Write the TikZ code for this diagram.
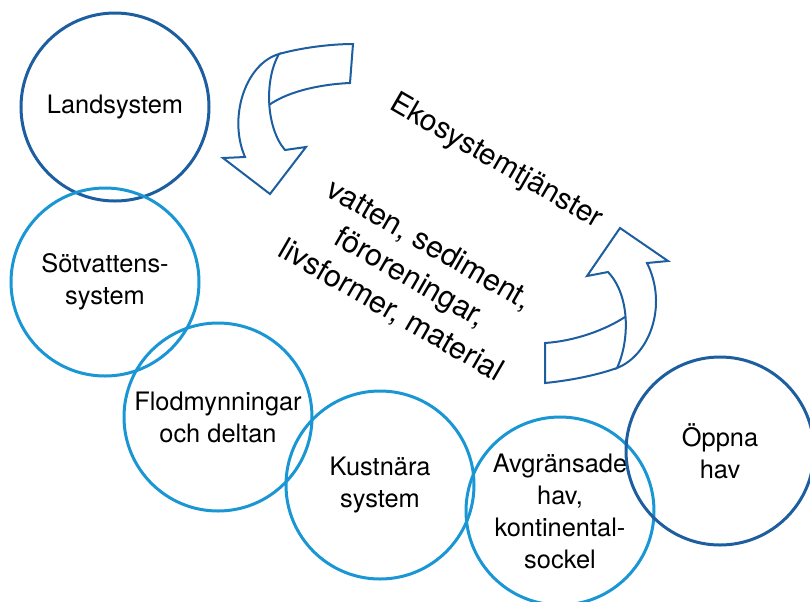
\documentclass[tikz,border=0pt]{standalone}
\usepackage{fontspec}
\setmainfont{TeX Gyre Heros}
\definecolor{deepblue}{RGB}{28,94,160}
\definecolor{seablue}{RGB}{26,150,212}
\begin{document}
\begin{tikzpicture}[x=0.5pt,y=-0.5pt,
  zone/.style={circle,draw,line width=1.5pt,minimum size=94pt,inner sep=0pt,
    align=center,font=\fontsize{12.7}{16}\selectfont},
  flow/.style={draw=deepblue,line width=1pt,line join=miter}]
\useasboundingbox (0,0) rectangle (810,601);
\node[zone,draw=deepblue] (land) at (115,107) {Landsystem};
\node[zone,draw=seablue] (fresh) at (105,282) {Sötvattens-\\system};
\node[zone,draw=seablue] (delta) at (218,417) {Flodmynningar\\och deltan};
\node[zone,draw=seablue] (coast) at (380,485) {Kustnära\\system};
\node[zone,draw=seablue] (shelf) at (560,511) {Avgränsade\\hav,\\kontinental-\\sockel};
\node[zone,draw=deepblue] (ocean) at (720,451) {Öppna\\hav};
\node[rotate=-30,font=\fontsize{14.8}{17}\selectfont] (eko) at (496,162) {Ekosystemtjänster};
\node[rotate=-30,align=center,font=\fontsize{15.2}{19}\selectfont] (goods) at (410,278)
  {vatten, sediment,\\föroreningar,\\livsformer, material};
\draw[flow] (279,54) .. controls (245,64) and (228,118) .. (245,157) -- (223,158)
  -- (270,194) -- (306,147) -- (285,150) .. controls (266,128) and (264,80) .. (279,54) -- cycle;
\draw[flow] (269,105) .. controls (290,90) and (325,84) .. (350,83) -- (353,44)
  .. controls (330,44) and (300,48) .. (279,54);
\draw[flow] (617,368) .. controls (650,355) and (668,305) .. (647,263) -- (668,261)
  -- (620,228) -- (587,276) -- (608,272) .. controls (630,295) and (630,340) .. (617,368) -- cycle;
\draw[flow] (625,317) .. controls (605,330) and (575,341) .. (545,343) -- (545,383)
  .. controls (575,380) and (600,374) .. (617,368);
\end{tikzpicture}
\end{document}
